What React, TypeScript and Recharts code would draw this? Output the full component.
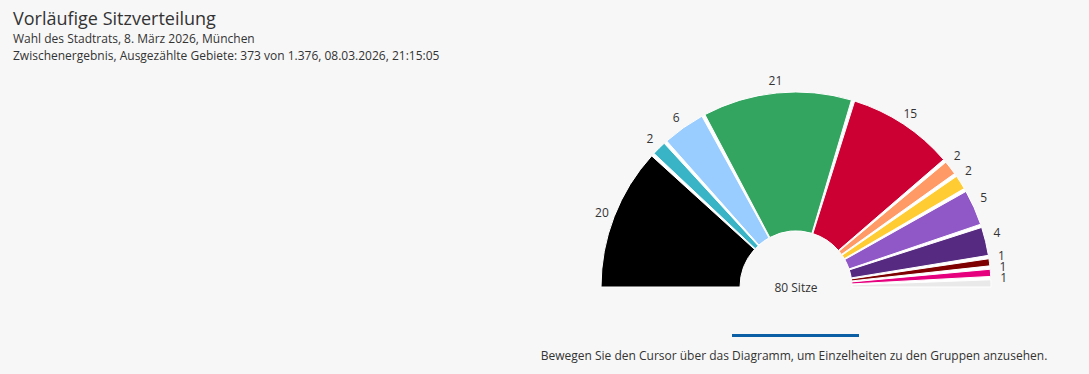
import React from 'react';
import { PieChart, Pie, Cell } from 'recharts';

const groups = ['Gruppe 1', 'Gruppe 2', 'Gruppe 3', 'Gruppe 4', 'Gruppe 5', 'Gruppe 6', 'Gruppe 7', 'Gruppe 8', 'Gruppe 9', 'Gruppe 10', 'Gruppe 11', 'Gruppe 12'];
const seats = [20, 2, 6, 21, 15, 2, 2, 5, 4, 1, 1, 1];
const colors = ['#000000', '#38b4c6', '#99ccff', '#33a561', '#cc0033', '#ff9966', '#ffcc33', '#9057c6', '#562a80', '#7f0000', '#e6007e', '#e9e9e9'];

const title = 'Vorläufige Sitzverteilung';
const subtitle1 = 'Wahl des Stadtrats, 8. März 2026, München';
const subtitle2 = 'Zwischenergebnis, Ausgezählte Gebiete: 373 von 1.376, 08.03.2026, 21:15:05';
const centerLabel = '80 Sitze';
const hint = 'Bewegen Sie den Cursor über das Diagramm, um Einzelheiten zu den Gruppen anzusehen.';

const data = seats.map((v, i) => ({ name: groups[i], value: v }));
const backdrop = [{ name: 'backdrop', value: 1 }];

const RAD = Math.PI / 180;
const FONT = '"Open Sans", sans-serif';

const renderLabel = (p: any) => {
  const r = 208;
  // labels on the lower right side are lifted slightly to keep them apart
  const a = p.midAngle < 45 ? p.midAngle + 1.5 : p.midAngle;
  const x = p.cx + r * Math.cos(-a * RAD);
  const y = p.cy + r * Math.sin(-a * RAD);
  return (
    <text x={x} y={y} textAnchor="middle" dominantBaseline="central" fill="#333" fontSize={12} fontFamily={FONT}>
      {p.value}
    </text>
  );
};

export default function App() {
  return (
    <div style={{ position: 'absolute', left: 0, top: 0, width: 1089, height: 374, background: '#f7f7f7', fontFamily: FONT, color: '#333', overflow: 'hidden' }}>
      <div style={{ position: 'absolute', left: 0, top: 0 }}>
        <PieChart width={1089} height={374} margin={{ top: 0, right: 0, bottom: 0, left: 0 }}>
          <Pie
            data={backdrop}
            dataKey="value"
            cx={796}
            cy={287}
            startAngle={180}
            endAngle={0}
            innerRadius={56.5}
            outerRadius={194.5}
            fill="#ffffff"
            stroke="none"
            isAnimationActive={false}
          />
          <Pie
            data={data}
            dataKey="value"
            nameKey="name"
            cx={796}
            cy={287}
            startAngle={180}
            endAngle={0}
            innerRadius={56}
            outerRadius={195}
            paddingAngle={1}
            stroke="#ffffff"
            strokeWidth={1}
            label={renderLabel}
            labelLine={false}
            isAnimationActive={false}
          >
            {data.map((d, i) => (
              <Cell key={d.name} fill={colors[i]} />
            ))}
          </Pie>
        </PieChart>
      </div>
      <div style={{ position: 'absolute', left: 13, top: 6, fontSize: 18, lineHeight: '24px', whiteSpace: 'nowrap' }}>{title}</div>
      <div style={{ position: 'absolute', left: 13, top: 30, fontSize: 12, lineHeight: '17px', whiteSpace: 'nowrap' }}>{subtitle1}</div>
      <div style={{ position: 'absolute', left: 13, top: 47, fontSize: 12, lineHeight: '17px', whiteSpace: 'nowrap' }}>{subtitle2}</div>
      <div style={{ position: 'absolute', left: 696, width: 200, top: 279, fontSize: 12, lineHeight: '17px', textAlign: 'center', whiteSpace: 'nowrap' }}>{centerLabel}</div>
      <div style={{ position: 'absolute', left: 732, top: 334, width: 127, height: 3, background: '#0a5fa5' }} />
      <div style={{ position: 'absolute', left: 494, width: 600, top: 347, fontSize: 12, lineHeight: '17px', textAlign: 'center', whiteSpace: 'nowrap' }}>{hint}</div>
    </div>
  );
}
